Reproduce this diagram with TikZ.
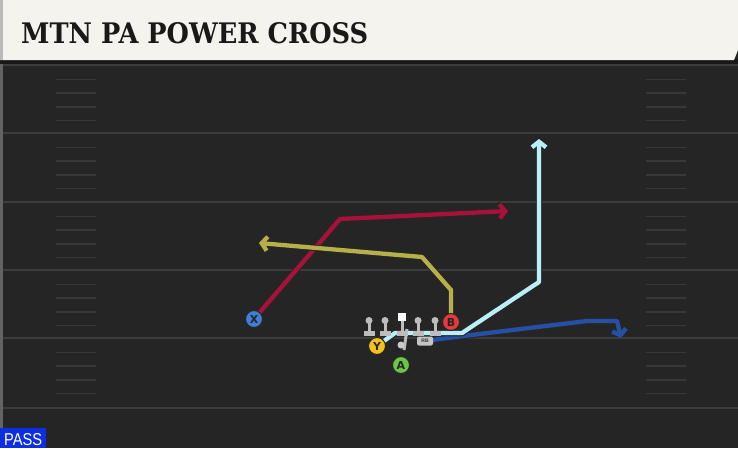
\documentclass[tikz,border=0pt]{standalone}
\usepackage{fontspec}
\setmainfont{Liberation Sans}
\newfontfamily\titlefont{DejaVu Serif}
\newfontfamily\letterfont{DejaVu Sans}
\usetikzlibrary{arrows.meta}
\definecolor{fieldc}{HTML}{252525}
\definecolor{headc}{HTML}{F5F3EE}
\definecolor{linec}{HTML}{3C3C3C}
\definecolor{hashc}{HTML}{383838}
\definecolor{redr}{HTML}{A8123A}
\definecolor{yelr}{HTML}{B5B04A}
\definecolor{cyanr}{HTML}{B8F0F8}
\definecolor{bluer}{HTML}{2650A3}
\definecolor{xblue}{HTML}{3F7FD6}
\definecolor{yyel}{HTML}{F4C21C}
\definecolor{agreen}{HTML}{6CC644}
\definecolor{bred}{HTML}{E5383F}
\definecolor{olgray}{HTML}{BDBDBD}
\definecolor{passblue}{HTML}{0E2FE0}
\pgfdeclarelayer{fieldlayer}
\pgfdeclarelayer{routelayer}
\pgfsetlayers{fieldlayer,routelayer,main}
\tikzset{
  routeo/.style={line width=6.5pt, line cap=round, line join=round, draw=black!85,
    -{Straight Barb[length=6.5pt,width=16pt]}},
  routei/.style={line width=4.3pt, line cap=round, line join=round, draw=#1,
    -{Straight Barb[length=5.5pt,width=14pt]}},
  player/.style={circle, minimum size=17pt, inner sep=0pt, draw=black!85,
    line width=1pt, fill=#1, font=\letterfont\bfseries\fontsize{11pt}{11pt}\selectfont, text=black!85},
  yardline/.style={draw=linec, line width=2pt},
  hashmark/.style={draw=hashc, line width=1.6pt},
  olman/.style={fill=olgray},
}
\begin{document}
\begin{tikzpicture}[x=1pt,y=-1pt]
\useasboundingbox (0,0) rectangle (738,448);
\begin{pgfonlayer}{fieldlayer}
  \fill[fieldc] (0,0) rectangle (738,448);
  \fill[linec!80] (0,60) rectangle (3,428);
  % yard lines
  \foreach \yy in {65,133,202,270,338,408} {
    \draw[yardline] (3,\yy) -- (738,\yy);
  }
  % hash marks
  \foreach \yy in {65,133,202,270,338} {
    \foreach \dd in {14.5,28,42,55.5} {
      \draw[hashmark] (56,\yy+\dd) -- (96,\yy+\dd);
      \draw[hashmark] (646,\yy+\dd) -- (686,\yy+\dd);
    }
  }
  % header
  \fill[black!90] (0,59) rectangle (738,64);
  \fill[headc] (0,0) -- (738,0) -- (738,50) -- (734,60) -- (0,60) -- cycle;
  \fill[gray!55] (0,0) rectangle (3,60);
\end{pgfonlayer}

\node[anchor=base west, inner sep=0pt, text=black!90] (title) at (21,43)
  {\resizebox{347pt}{21pt}{\titlefont\bfseries MTN PA POWER CROSS}};

\node[anchor=south west, fill=passblue, inner sep=0pt, minimum width=46pt, minimum height=20pt] (passbox) at (0,448) {};
\node[anchor=base west, inner sep=0pt, text=white] (pass) at (4,445)
  {\resizebox{38pt}{12pt}{PASS}};

% offensive line
\foreach \xx/\nm in {369/lt,385/lg,418/rg,435/rt} {
  \fill[olman] (\xx-5.5,331) rectangle (\xx+5.5,335.5);
  \fill[olman] (\xx-1.5,321) rectangle (\xx+1.5,332);
  \fill[olman] (\xx,320.5) circle (3.5pt);
  \coordinate (\nm) at (\xx,321);
}
% center
\fill[olman] (396.5,331) rectangle (407.5,335.5);
\fill[olman] (400.5,320) rectangle (403.5,332);
\node[draw=none, fill=white, minimum size=8.5pt, inner sep=0pt] (center) at (402,317) {};
% quarterback fake
\coordinate (qbtop) at (407,329);
\coordinate (qbbot) at (404,350);
\draw[olgray, line width=3pt] (qbtop) -- (qbbot);
\fill[olgray!80] (401,345) circle (3.5pt);

% players
\node[player=xblue] (X) at (254,319) {X};
\node[player=yyel] (Y) at (377,346) {Y};
\node[player=agreen] (A) at (401,365) {A};
\node[player=bred] (B) at (451,322) {B};
\node[fill=olgray!90, rounded corners=2pt, minimum width=16pt, minimum height=9pt, inner sep=0pt,
  font=\bfseries\fontsize{5pt}{5pt}\selectfont, text=black!80] (RB) at (425,341) {RB};

% route coordinates
\coordinate (r1) at (340,219);
\coordinate (r2) at (508,211);
\coordinate (y1) at (451,290);
\coordinate (y2) at (422,257);
\coordinate (y3) at (259,243);
\coordinate (c1) at (395,333);
\coordinate (c2) at (462,333);
\coordinate (c3) at (539,282);
\coordinate (c4) at (539,139);
\coordinate (b1) at (463,336);
\coordinate (b2) at (587,321);
\coordinate (b3) at (617,321);
\coordinate (b4) at (621,338);

\begin{pgfonlayer}{routelayer}
  \draw[routeo] (X) -- (r1) -- (r2);
  \draw[routei=redr] (X) -- (r1) -- (r2);
  \draw[routeo] (B) -- (y1) -- (y2) -- (y3);
  \draw[routei=yelr] (B) -- (y1) -- (y2) -- (y3);
  \draw[routeo] (RB) -- (b1) -- (b2) -- (b3) -- (b4);
  \draw[routei=bluer] (RB) -- (b1) -- (b2) -- (b3) -- (b4);
  \draw[routeo] (Y) -- (c1) -- (c2) -- (c3) -- (c4);
  \draw[routei=cyanr] (Y) -- (c1) -- (c2) -- (c3) -- (c4);
\end{pgfonlayer}
\end{tikzpicture}
\end{document}
